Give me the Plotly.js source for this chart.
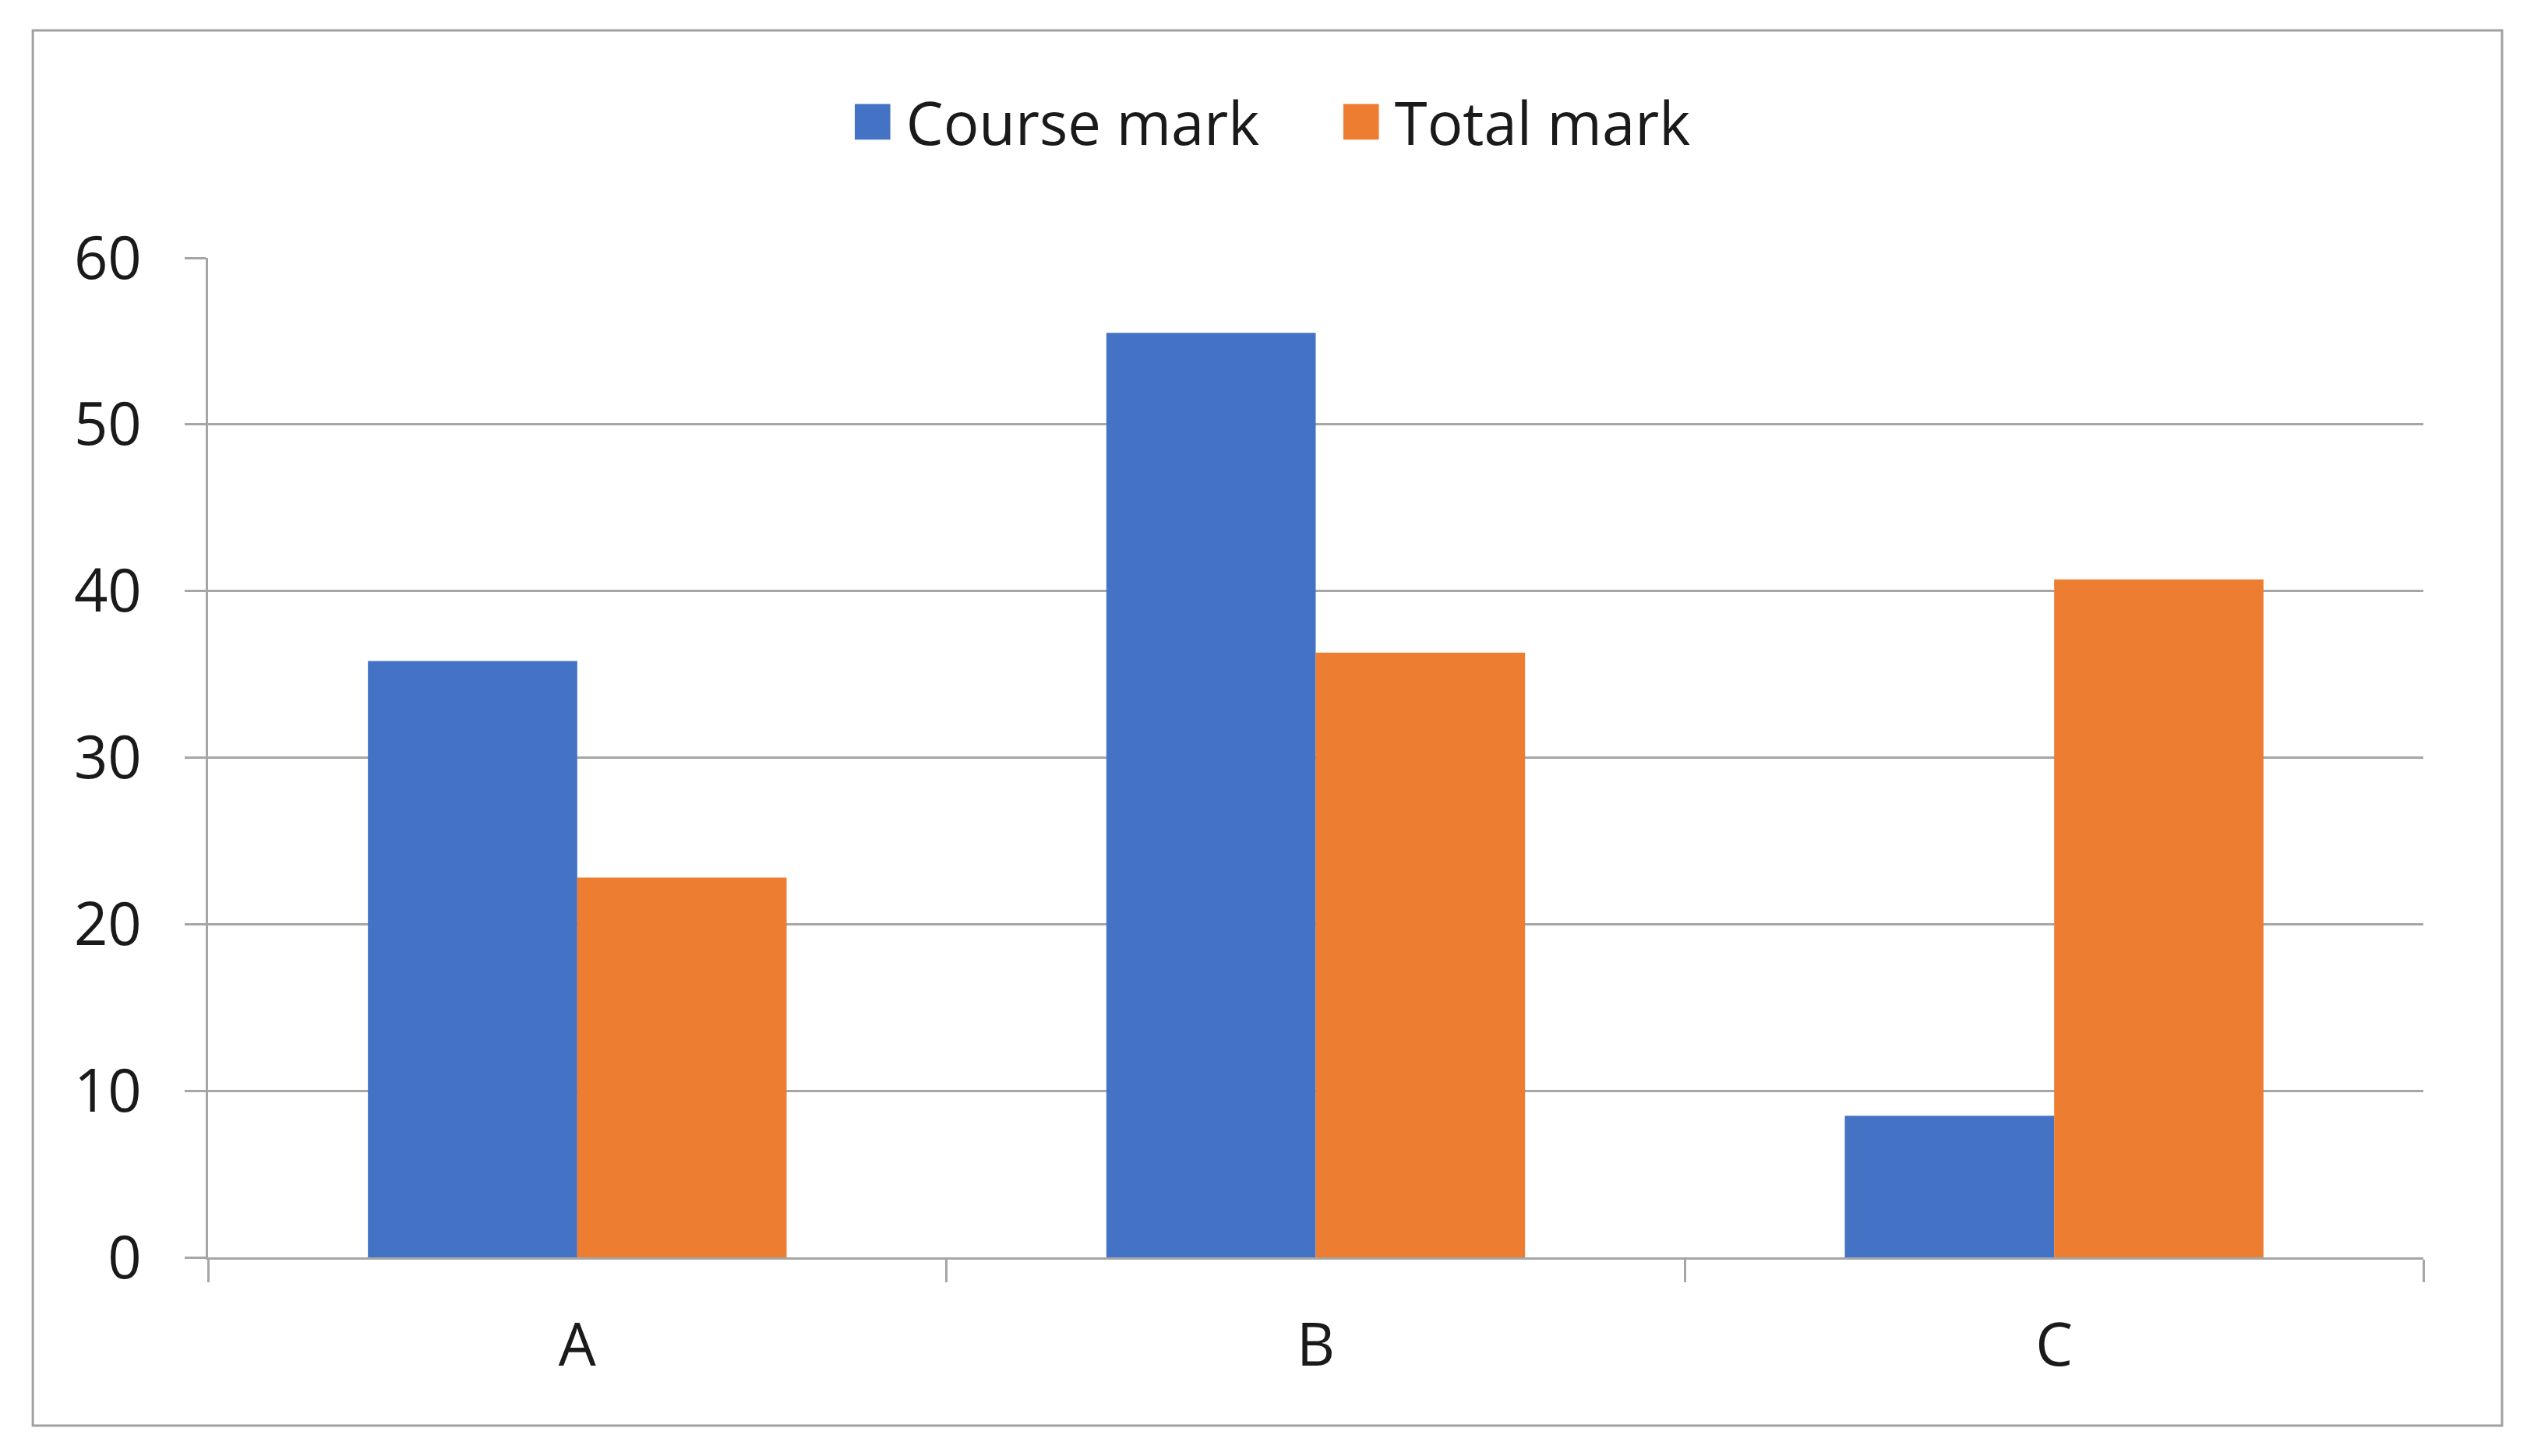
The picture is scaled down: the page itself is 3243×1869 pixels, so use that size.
<!DOCTYPE html>
<html>
<head>
<meta charset="utf-8">
<script src="https://cdn.plot.ly/plotly-3.0.1.min.js"></script>
<style>
  body { margin: 0; background: #fff; }
  #chart { width: 3243px; height: 1869px; }
</style>
</head>
<body>
<div id="chart"></div>
<script>
// chart data
var categories = ['A', 'B', 'C'];
var courseMark = [35.8, 55.5, 8.5];
var totalMark = [22.8, 36.3, 40.7];
var seriesNames = ['Course mark', 'Total mark'];

var axisGray = '#a6a6a6';
var textColor = '#1a1a1a';

var traces = [
    {
        x: categories,
        y: courseMark,
        name: seriesNames[0],
        type: 'bar',
        marker: {color: '#4472C4'},
        hoverinfo: 'y'
    },
    {
        x: categories,
        y: totalMark,
        name: seriesNames[1],
        type: 'bar',
        marker: {color: '#ED7D31'},
        hoverinfo: 'y'
    }
];

var layout = {
    width: 3243,
    height: 1869,
    margin: {l: 267, r: 133, t: 331, b: 255, pad: 0},
    paper_bgcolor: '#fff',
    plot_bgcolor: '#fff',
    font: {family: 'Open Sans, sans-serif', size: 76, color: textColor},
    barmode: 'group',
    bargap: 0.433,
    bargroupgap: 0,
    showlegend: true,
    legend: {
        orientation: 'h',
        x: 0.511,
        xanchor: 'center',
        y: 1.136,
        yanchor: 'middle',
        font: {size: 76, color: textColor},
        itemwidth: 60,
        entrywidth: 552,
        entrywidthmode: 'pixels',
        bgcolor: 'rgba(0,0,0,0)'
    },
    xaxis: {
        type: 'category',
        tickson: 'boundaries',
        ticks: 'outside',
        ticklen: 29,
        tickwidth: 3,
        tickcolor: axisGray,
        showline: true,
        linecolor: axisGray,
        linewidth: 3,
        showgrid: false,
        zeroline: false,
        ticklabelstandoff: 45,
        tickfont: {size: 76, color: textColor}
    },
    yaxis: {
        range: [0, 60],
        dtick: 10,
        ticks: 'outside',
        ticklen: 27,
        tickwidth: 3,
        tickcolor: axisGray,
        showline: true,
        linecolor: axisGray,
        linewidth: 3,
        showgrid: true,
        gridcolor: axisGray,
        gridwidth: 3,
        zeroline: false,
        ticklabelstandoff: 40,
        tickfont: {size: 76, color: textColor}
    },
    shapes: [{
        type: 'rect',
        xref: 'paper',
        yref: 'paper',
        x0: -0.0791,
        x1: 1.0355,
        y0: -0.1684,
        y1: 1.2276,
        line: {color: '#a0a0a0', width: 3},
        layer: 'below'
    }]
};

Plotly.newPlot('chart', traces, layout, {staticPlot: true}).then(function (gd) {
    // enlarge the legend squares to match the reference
    var pts = gd.querySelectorAll('.legend .legendpoints path');
    pts.forEach(function (p) {
        var t = p.getAttribute('transform') || '';
        p.setAttribute('transform', t + ' translate(-8,0) scale(3.8)');
    });
});
</script>
</body>
</html>
